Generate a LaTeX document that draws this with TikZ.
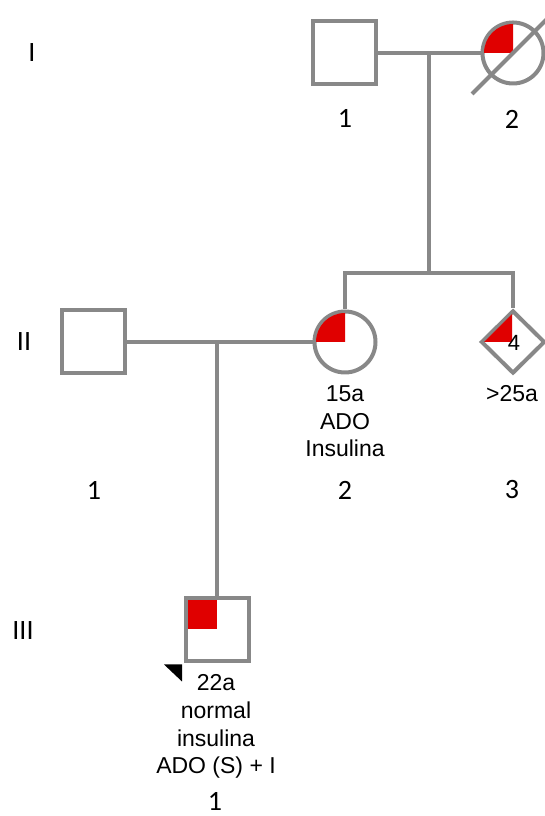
\documentclass[tikz,border=0pt]{standalone}
\usepackage{fontspec}
\setmainfont{Carlito}
\newfontfamily\arialfont{Liberation Sans}
\usepackage{xcolor}
\usepackage{tikz}
\usetikzlibrary{shapes.geometric}
\definecolor{pedgray}{HTML}{888888}
\definecolor{pedred}{HTML}{E00000}
\tikzset{
	male/.style={draw=pedgray, line width=4pt, minimum size=63pt, inner sep=0pt},
	female/.style={circle, draw=pedgray, line width=4pt, minimum size=61pt, inner sep=0pt},
	nosex/.style={diamond, draw=pedgray, line width=4pt, minimum width=64pt, minimum height=63pt, inner sep=0pt},
	link/.style={draw=pedgray, line width=4pt},
	gen/.style={font=\fontsize{28}{30}\selectfont},
	idnum/.style={font=\fontsize{28}{30}\selectfont, inner sep=0pt},
	info/.style={font=\arialfont\fontsize{23}{27.8}\selectfont, align=center, anchor=base}
}

\begin{document}
\begin{tikzpicture}[x=1pt,y=1pt]
		\useasboundingbox (0,0) rectangle (544,816);
		
		% generations
		\node[gen] (genI) at (32,763) {I};
		\node[gen] (genII) at (24,474) {II};
		\node[gen] (genIII) at (23,185) {III};
		
		% generation I
		\node[male] (I1) at (344,763) {};
		\node[female] (I2) at (513,763) {};
		\fill[pedred] (I2.center) -- ++(-29,0) arc[start angle=180,end angle=90,radius=29] -- cycle;
		\draw[link] ([shift={(-41,-41)}]I2.center) to ([shift={(50,50)}]I2.center);
		\draw[link] (I1.east) to (I2.west);
		\coordinate (mI) at (429,763);
		\coordinate (sibII) at (429,543);
		\draw[link] (mI) to (sibII);
		
		% generation II
		\node[male] (II1) at (93,474) {};
		\node[female] (II2) at (345,474) {};
		\node[nosex] (II3) at (513,474) {};
		\fill[pedred] (II2.center) -- ++(-29,0) arc[start angle=180,end angle=90,radius=29] -- cycle;
		\fill[pedred] ([shift={(-1,0)}]II3.center) -- ++(-28,0) -- ++(28,28) -- cycle;
		\node[font=\arialfont\fontsize{22}{24}\selectfont] (II3n) at (514,473.5) {4};
		\draw[link] (II2.north) to (II2.north |- sibII) to (II3.north |- sibII) to (II3.north);
		\draw[link] (II1.east) to (II2.west);
		\coordinate (mII) at (217,474);
		
		% generation III
		\node[male] (III1) at (217,186.5) {};
		\fill[pedred] (III1.center) rectangle ++(-29.5,29.5);
		\draw[link] (mII) to (III1.north);
		\fill ([shift={(-19.5,-1.5)}]III1.south west) -- ([shift={(-1.5,-1.5)}]III1.south west) -- ([shift={(-1.5,-18.5)}]III1.south west) -- cycle;
		
		% ages and treatment
		\node[info] (II2txt) at (345,359) {15a\\ADO\\Insulina};
		\node[info] (II3txt) at (512,414) {>25a};
		\node[info] (III1txt) at (216,42) {22a\\normal\\insulina\\ADO (S) + I};
		
		% individual numbers
		\foreach \x/\y/\n/\name in {345/697/1/nI1, 512/697/2/nI2, 94/326/1/nII1, 345/326/2/nII2, 512/326/3/nII3, 215/15/1/nIII1}
		{
		\node[idnum] (\name) at (\x,\y) {\n};
		}
	\end{tikzpicture}
\end{document}
